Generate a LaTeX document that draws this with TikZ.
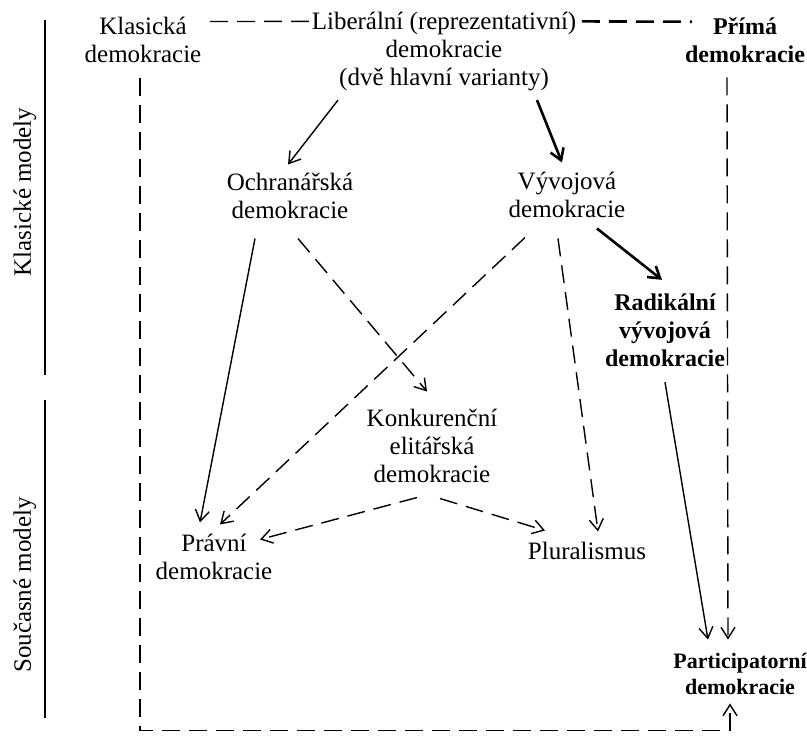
\documentclass[tikz,border=0pt]{standalone}
\usepackage{fontspec}
\setmainfont{Liberation Serif}
\usetikzlibrary{calc,arrows.meta}

\begin{document}
\begin{tikzpicture}[x=1pt, y=1pt, line width=1.4pt, >={Straight Barb[length=11pt,width=14pt]},
	every node/.style={align=center, inner sep=2pt, font=\fontsize{25}{28}\selectfont},
	bld/.style={font=\fontsize{24}{28}\selectfont\bfseries},
	dsh/.style={dash pattern=on 18pt off 9pt},
	thk/.style={line width=2.6pt}]
		\useasboundingbox (0,0) rectangle (807,-745);
		\node (klas) at (143,-40) {Klasická\\demokracie};
		\node (lib) at (444,-52) {Liberální (reprezentativní)\\demokracie\\(dvě hlavní varianty)};
		\node [bld] (prima) at (745,-40) {Přímá\\demokracie};
		\node (ochr) at (290,-196) {Ochranářská\\demokracie};
		\node (vyv) at (567,-195) {Vývojová\\demokracie};
		\node [bld] (rad) at (665,-330) {Radikální\\vývojová\\demokracie};
		\node (konk) at (432,-446) {Konkurenční\\elitářská\\demokracie};
		\node (prav) at (214,-557) {Právní\\demokracie};
		\node (plur) at (587,-551) {Pluralismus};
		\node [bld, font=\fontsize{22}{26}\selectfont\bfseries] (part) at (740,-674) {Participatorní\\demokracie};
		\node [rotate=90] (klm) at (25,-192) {Klasické modely};
		\node [rotate=90] (som) at (25,-585) {Současné modely};
		
		\draw [line width=1.1pt] (45,-20) -- (45,-375);
		\draw [line width=1.1pt] (45,-400) -- (45,-718);
		
		\draw [dsh] ($(klas.north east)+(6,-7)$) -- ($(lib.north west)+(2,-11.5)$);
		\draw [dsh, thk] ($(lib.north east)+(3,-11.5)$) -- ($(prima.north west)+(9.5,-7)$);
		\draw [->] ($(lib.south)+(-106,-6)$) -- ($(ochr.north)+(-2,6)$);
		\draw [->, thk] ($(lib.south)+(93,-6)$) -- ($(vyv.north)+(-5,7)$);
		\draw [->, thk] ($(vyv.south)+(30,-8)$) -- ($(rad.north)+(-3,11)$);
		\draw [->] ($(ochr.south)+(-35,-17)$) -- ($(prav.north)+(-14,9)$);
		\draw [->, dsh] ($(ochr.south)+(8,-17)$) -- ($(konk.north)+(-5,15)$);
		\draw [->, dsh] ($(vyv.south)+(-42,-17)$) -- ($(prav.north)+(6,7)$);
		\draw [->, dsh] ($(vyv.south)+(-9,-18)$) -- ($(plur.north)+(11,8)$);
		\draw [->, dsh] ($(konk.south)+(-15,-12)$) -- ($(prav.north)+(46,-8)$);
		\draw [->, dsh] ($(konk.south)+(8,-13)$) -- ($(plur.north)+(-42,9)$);
		\draw [->] ($(rad.south)+(0,-13)$) -- ($(part.north)+(-32,11)$);
		\draw [->, dsh] ($(prima.south)+(-18,-12)$) -- ($(part.north)+(-12,11)$);
		\draw [->, dsh] ($(klas.south)+(-3,-12)$) |- ($(part.south)+(-10,-33)$) -- ($(part.south)+(-10,-6)$);
		
	\end{tikzpicture}
\end{document}
